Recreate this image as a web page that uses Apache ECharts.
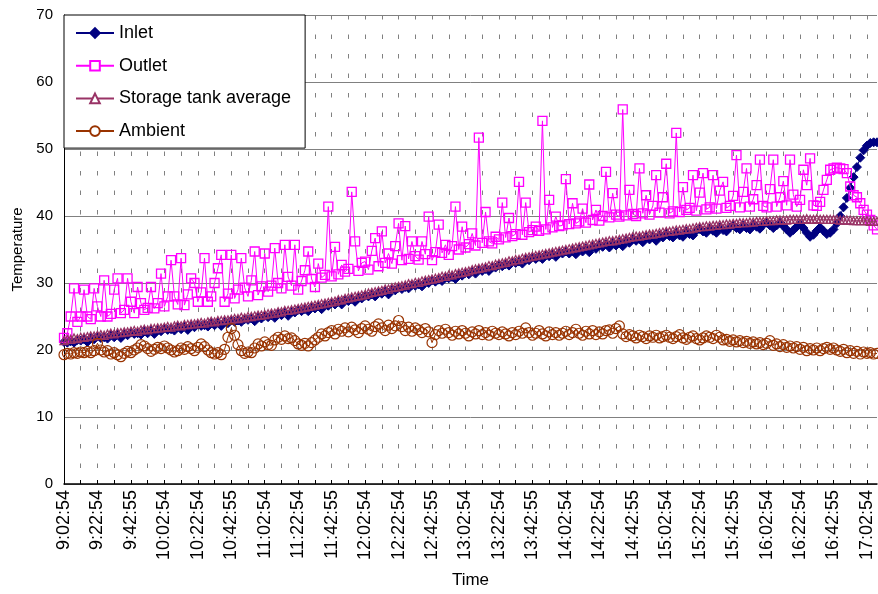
<!DOCTYPE html>
<html>
<head>
<meta charset="utf-8">
<script src="https://cdn.jsdelivr.net/npm/echarts@6/dist/echarts.min.js"></script>
<style>
html,body{margin:0;padding:0;background:#fff;}
#chart{width:878px;height:594px;}
</style>
</head>
<body>
<div id="chart"></div>
<script>
// Tick labels shown every 10 samples (samples are ~2 minutes apart)
const tickLabels = ['9:02:54','9:22:54','9:42:55','10:02:54','10:22:54','10:42:55','11:02:54','11:22:54','11:42:55','12:02:54','12:22:54','12:42:55','13:02:54','13:22:54','13:42:55','14:02:54','14:22:54','14:42:55','15:02:54','15:22:54','15:42:55','16:02:54','16:22:54','16:42:55','17:02:54'];

const inlet = [
21.2,21.1,21.3,21.1,21.5,21.4,21.6,21.2,21.8,21.6,
22.0,21.8,21.9,21.7,22.3,21.9,22.3,21.8,22.4,22.2,
22.6,22.4,22.5,22.3,22.9,22.5,22.9,22.4,23.0,22.8,
23.2,23.0,23.1,22.9,23.5,23.1,23.5,23.0,23.6,23.4,
23.8,23.6,23.7,23.5,24.1,23.7,24.1,23.6,24.2,24.0,
24.4,24.2,24.4,24.2,24.6,24.5,24.7,24.3,24.9,24.7,
25.1,24.9,25.2,24.8,25.5,25.2,25.6,25.1,25.7,25.6,
26.0,25.8,26.1,25.8,26.4,26.2,26.5,26.1,26.7,26.6,
27.0,26.8,27.2,26.8,27.5,27.3,27.6,27.2,27.8,27.7,
28.1,28.0,28.3,28.0,28.6,28.4,28.8,28.3,29.0,28.9,
29.3,29.1,29.4,29.2,29.7,29.6,29.8,29.5,30.1,30.0,
30.4,30.2,30.5,30.3,30.8,30.7,30.9,30.6,31.2,31.1,
31.5,31.3,31.7,31.4,32.0,31.8,32.1,31.8,32.3,32.3,
32.7,32.5,32.8,32.6,33.1,33.0,33.2,32.9,33.5,33.4,
33.8,33.6,33.9,33.6,34.2,34.0,34.3,33.9,34.5,34.4,
34.7,34.4,34.8,34.3,35.1,34.7,35.2,34.6,35.4,35.1,
35.7,35.4,35.8,35.3,36.0,35.6,36.1,35.5,36.3,36.0,
36.6,36.3,36.6,36.1,36.9,36.5,36.9,36.3,37.1,36.8,
37.4,37.0,36.8,37.5,37.1,36.9,37.7,37.3,37.1,37.8,
38.1,37.7,37.5,38.1,37.8,37.5,38.3,37.9,37.7,38.3,
38.6,38.2,38.0,38.6,38.2,38.0,38.7,38.4,38.1,38.7,
39.0,38.6,38.2,38.6,39.0,38.5,38.0,37.5,37.9,38.4,
38.8,38.2,37.5,36.9,37.2,37.8,38.3,37.8,37.3,37.5,
38.0,38.9,40.0,41.3,42.7,44.2,45.8,47.3,48.7,49.8,
50.5,50.9,51.0,51.0
];

const outlet = [
21.8,22.5,25.0,29.2,24.2,25.0,29.0,25.0,24.6,29.2,
26.5,25.0,30.4,25.0,25.4,29.0,30.7,25.5,26.0,30.7,
27.2,25.5,29.4,27.0,26.0,26.3,29.4,26.2,27.0,31.4,
26.5,28.0,33.4,28.0,26.8,33.7,26.7,28.3,30.7,30.0,
27.2,28.6,33.7,27.2,28.0,30.0,32.2,34.2,27.2,28.4,
34.2,27.7,29.0,33.7,29.3,28.0,30.4,34.7,28.2,29.5,
34.4,28.7,29.6,35.2,30.0,29.2,35.7,30.9,29.6,35.7,
29.0,30.3,31.9,34.7,30.6,29.4,32.9,30.8,31.2,41.4,
31.0,35.4,31.3,32.7,31.7,32.1,43.6,36.2,31.8,33.0,
33.2,32.0,34.8,36.7,32.5,37.7,33.0,34.4,32.9,35.5,
38.9,33.4,38.5,33.6,36.2,34.0,33.5,36.2,34.3,39.9,
33.4,34.6,38.7,34.5,35.7,34.2,35.5,41.4,35.0,38.4,
35.3,35.8,37.4,35.6,51.7,36.0,40.6,36.2,35.9,36.9,
36.5,42.0,36.8,39.7,37.0,37.3,45.1,37.2,42.0,37.6,
37.9,38.4,37.8,54.2,38.0,42.4,38.3,39.9,38.5,38.6,
45.5,38.8,41.9,38.9,39.2,41.1,39.0,44.7,39.4,40.9,
39.3,40.0,46.6,39.8,43.4,40.2,39.9,55.9,40.1,43.9,
40.3,40.0,47.1,40.4,43.1,40.2,41.5,46.1,40.5,42.8,
47.8,40.4,40.7,52.4,40.6,44.3,40.9,41.2,46.1,40.8,
43.5,46.4,41.0,41.3,46.1,41.1,43.8,45.1,41.2,41.5,
43.0,49.1,41.3,43.6,47.1,41.4,42.5,44.6,48.4,41.5,
41.3,44.0,48.4,41.4,42.8,45.2,41.6,48.4,43.2,41.4,
42.4,46.9,44.6,48.6,41.6,41.5,42.1,43.9,45.4,46.9,
47.1,47.2,47.1,47.0,46.4,44.4,43.1,42.8,41.9,40.9,
40.2,39.4,38.6,38.0
];

const storage = [
21.4,21.6,21.6,21.8,21.7,21.9,21.9,22.0,22.1,22.1,
22.2,22.3,22.2,22.4,22.5,22.4,22.6,22.6,22.7,22.7,
22.8,22.9,22.8,23.0,23.1,23.0,23.2,23.2,23.3,23.3,
23.4,23.5,23.4,23.6,23.7,23.6,23.8,23.8,23.9,23.9,
24.0,24.1,24.0,24.2,24.3,24.2,24.4,24.4,24.5,24.5,
24.6,24.7,24.7,24.9,24.8,25.0,25.0,25.1,25.2,25.2,
25.3,25.4,25.5,25.5,25.7,25.7,25.9,25.9,26.0,26.1,
26.2,26.3,26.4,26.5,26.6,26.7,26.8,26.9,27.0,27.1,
27.2,27.3,27.5,27.5,27.7,27.8,27.9,28.0,28.1,28.2,
28.3,28.5,28.6,28.7,28.8,28.9,29.1,29.1,29.3,29.4,
29.5,29.6,29.7,29.9,29.9,30.1,30.1,30.3,30.4,30.5,
30.6,30.7,30.8,31.0,31.0,31.2,31.2,31.4,31.5,31.6,
31.7,31.8,32.0,32.1,32.2,32.3,32.4,32.6,32.6,32.8,
32.9,33.0,33.1,33.3,33.3,33.5,33.5,33.7,33.8,33.9,
34.0,34.1,34.2,34.3,34.4,34.5,34.6,34.7,34.8,34.9,
35.0,35.1,35.2,35.3,35.4,35.5,35.6,35.7,35.8,35.9,
36.0,36.1,36.2,36.3,36.3,36.4,36.5,36.6,36.7,36.8,
36.9,37.0,37.0,37.1,37.2,37.3,37.3,37.4,37.5,37.6,
37.7,37.7,37.8,37.9,37.9,38.0,38.1,38.1,38.2,38.3,
38.4,38.4,38.5,38.5,38.6,38.6,38.7,38.7,38.8,38.8,
38.9,38.9,39.0,39.0,39.0,39.1,39.1,39.2,39.2,39.2,
39.3,39.3,39.3,39.4,39.4,39.4,39.4,39.5,39.5,39.5,
39.5,39.5,39.6,39.5,39.5,39.6,39.5,39.5,39.5,39.5,
39.5,39.5,39.4,39.4,39.4,39.4,39.3,39.3,39.3,39.3,
39.3,39.2,39.2,39.2
];

const ambient = [
19.3,19.5,19.4,19.6,19.5,19.7,19.6,19.8,19.6,19.9,
21.0,20.0,19.7,19.9,19.4,19.6,19.3,19.0,19.5,19.8,
19.6,20.0,20.3,20.8,20.6,20.2,19.8,20.1,20.4,20.2,
20.6,20.3,20.0,19.7,19.9,20.3,20.1,20.5,20.2,19.9,
20.4,20.9,20.5,20.0,19.6,19.4,19.6,19.3,20.1,21.9,
23.2,22.2,20.8,19.9,19.5,19.7,19.6,20.3,20.9,20.6,
21.2,20.8,20.7,21.5,21.9,21.6,22.1,21.7,21.8,21.4,
20.9,20.7,21.0,20.6,21.1,21.5,21.9,22.4,22.1,22.6,
22.9,22.4,23.1,22.8,23.3,22.7,23.4,23.0,22.6,23.2,
23.6,23.1,22.8,23.5,23.9,23.3,22.9,23.7,23.2,23.6,
24.4,23.5,22.9,23.4,22.8,23.3,23.0,22.6,23.2,22.7,
21.1,22.3,22.9,22.5,23.1,22.6,22.2,22.8,22.4,22.9,
22.5,22.1,22.7,22.4,22.9,22.3,22.6,22.2,22.8,22.5,
22.3,22.7,22.4,22.1,22.6,22.3,22.8,22.5,23.3,22.6,
22.2,22.5,22.9,22.4,22.1,22.7,22.3,22.6,22.2,22.5,
22.8,22.3,22.6,23.1,22.5,22.2,22.8,22.4,22.9,22.3,
22.7,22.4,22.9,23.0,22.5,23.2,23.6,22.4,22.0,22.3,
22.1,21.8,22.2,22.0,21.7,22.1,21.9,22.2,21.8,22.0,
22.2,21.9,21.7,22.0,22.3,21.8,21.6,21.9,22.1,21.7,
21.5,21.8,22.1,21.9,21.7,22.2,21.9,21.5,21.6,21.3,
21.5,21.2,21.4,21.1,21.3,21.0,21.2,20.9,21.1,20.8,
21.0,21.4,20.7,20.9,20.5,20.8,20.4,20.6,20.3,20.5,
20.1,20.4,19.9,20.2,20.0,20.3,19.9,20.2,20.4,20.1,
20.3,20.0,19.8,20.1,19.6,19.9,19.5,19.8,19.4,19.7,
19.5,19.6,19.4,19.5
];

const seriesNames = ['Inlet', 'Outlet', 'Storage tank average', 'Ambient'];
const yTicks = {min: 0, max: 70, interval: 10};

// category slots, one per sample
const categories = inlet.map((v, i) => String(i));

const FONT = 'Liberation Sans, Arial, sans-serif';
const chart = echarts.init(document.getElementById('chart'), null, {renderer: 'canvas'});

function lineSeries(name, data, color, symbol, size, fill, z, bw) {
  return {
    name: name,
    type: 'line',
    data: data,
    symbol: symbol,
    symbolSize: size,
    showSymbol: true,
    showAllSymbol: true,
    z: z,
    lineStyle: {color: color, width: 1},
    itemStyle: {color: fill, borderColor: color, borderWidth: bw},
    emphasis: {disabled: true}
  };
}

chart.setOption({
  animation: false,
  backgroundColor: '#ffffff',
  textStyle: {fontFamily: FONT, color: '#000'},
  grid: {left: 64, right: 1, top: 15, bottom: 110, containLabel: false},
  legend: {
    orient: 'vertical',
    left: 64,
    top: 15,
    padding: [8, 14, 7, 11],
    itemGap: 12.7,
    itemWidth: 38,
    itemHeight: 12,
    backgroundColor: '#ffffff',
    borderColor: '#000000',
    borderWidth: 1,
    borderRadius: 0,
    textStyle: {fontFamily: FONT, fontSize: 18, color: '#000', lineHeight: 20},
    data: [
      {name: seriesNames[0]},
      {name: seriesNames[1], itemStyle: {color: '#ffffff'}},
      {name: seriesNames[2], itemStyle: {color: '#ffffff'}},
      {name: seriesNames[3], itemStyle: {color: '#ffffff'}}
    ]
  },
  xAxis: {
    type: 'category',
    data: categories,
    boundaryGap: false,
    name: 'Time',
    nameLocation: 'middle',
    nameGap: 88,
    nameTextStyle: {fontFamily: FONT, fontSize: 17, color: '#000'},
    axisLine: {show: true, lineStyle: {color: '#000', width: 1.5}},
    axisTick: {show: true, inside: true, length: 4, interval: 4, lineStyle: {color: '#000', width: 1}},
    axisLabel: {
      interval: 9,
      rotate: 90,
      margin: 6,
      fontFamily: FONT,
      fontSize: 18,
      color: '#000',
      formatter: function (v, idx) { return idx % 10 === 0 ? (tickLabels[idx / 10] || '') : ''; }
    },
    splitLine: {show: true, interval: 4, lineStyle: {color: '#808080', width: 1, type: [4.5, 15]}}
  },
  yAxis: {
    type: 'value',
    min: yTicks.min,
    max: yTicks.max,
    interval: yTicks.interval,
    name: 'Temperature',
    nameLocation: 'middle',
    nameGap: 38,
    nameRotate: 90,
    nameTextStyle: {fontFamily: FONT, fontSize: 15, color: '#000'},
    axisLine: {show: true, lineStyle: {color: '#000', width: 1}},
    axisTick: {show: false},
    axisLabel: {fontFamily: FONT, fontSize: 15, color: '#000', margin: 11},
    splitLine: {show: true, lineStyle: {color: '#808080', width: 1}}
  },
  series: [
    lineSeries(seriesNames[0], inlet, '#000080', 'diamond', 9, '#000080', 2, 1),
    lineSeries(seriesNames[1], outlet, '#FF00FF', 'rect', 9, 'rgba(255,255,255,0)', 3, 1.3),
    lineSeries(seriesNames[2], storage, '#993366', 'triangle', 8, 'rgba(255,255,255,0)', 4, 1.3),
    lineSeries(seriesNames[3], ambient, '#993300', 'circle', 10, 'rgba(255,255,255,0)', 5, 1.2)
  ]
});
</script>
</body>
</html>
